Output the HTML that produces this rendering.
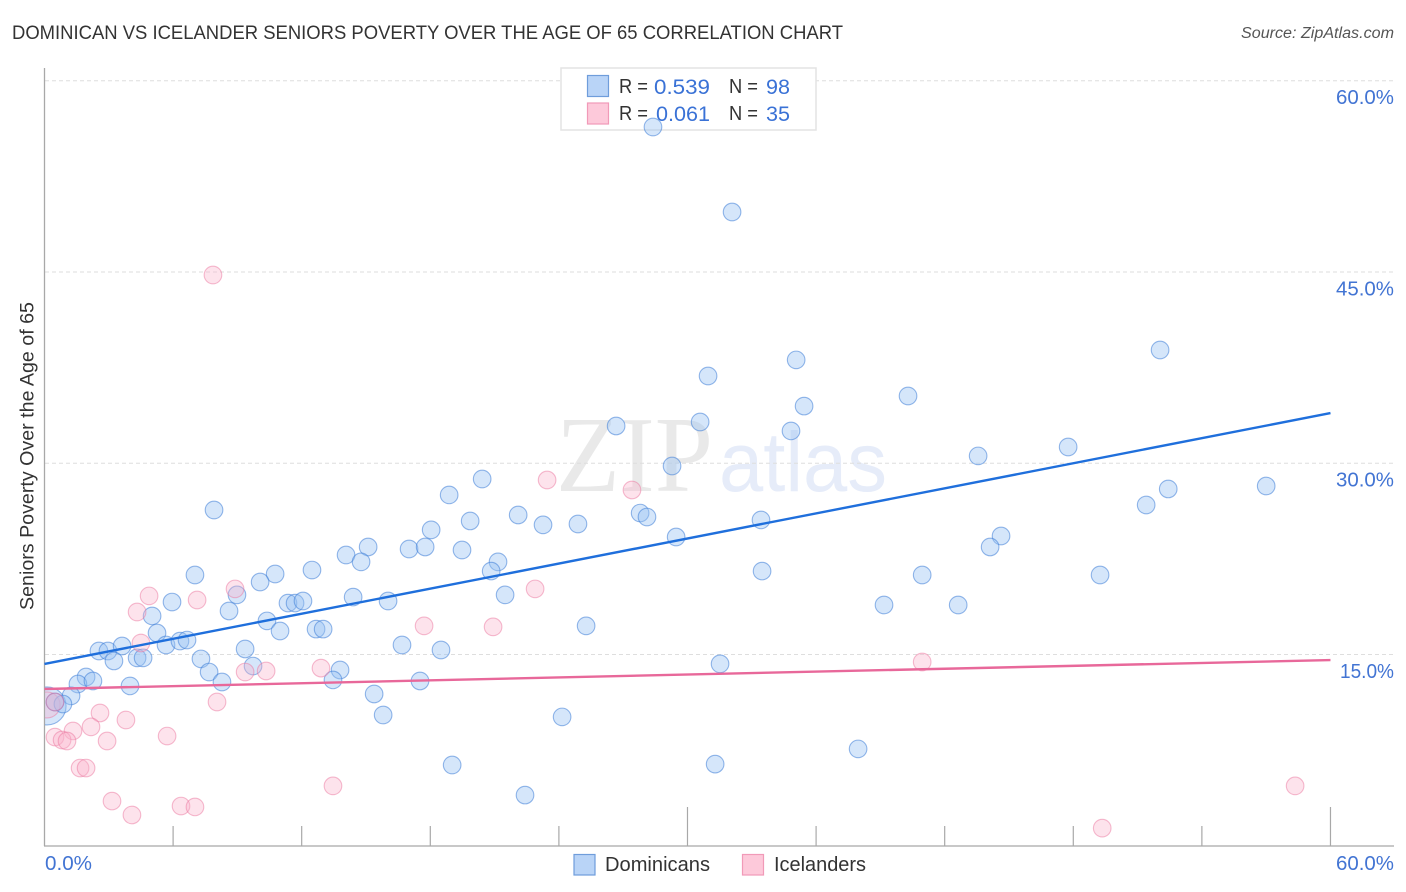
<!DOCTYPE html>
<html lang="en">
<head>
<meta charset="utf-8">
<title>Dominican vs Icelander Seniors Poverty Over the Age of 65 Correlation Chart</title>
<style>
html,body{margin:0;padding:0;background:#fff;width:1406px;height:892px;overflow:hidden}
svg{display:block}
text{font-family:"Liberation Sans",sans-serif}
.tick{fill:#4274d3;font-size:20px}
.leg{fill:#333;font-size:20px}
.val{fill:#3a72d6;font-size:21px}
</style>
</head>
<body>
<svg id="chart" xmlns="http://www.w3.org/2000/svg" width="1406" height="892" viewBox="0 0 1406 892">
  <defs><clipPath id="plot-clip"><rect x="45" y="60" width="1350" height="786"/></clipPath></defs>
  <text x="12" y="39" font-size="19.5" fill="#333" textLength="831" lengthAdjust="spacingAndGlyphs">DOMINICAN VS ICELANDER SENIORS POVERTY OVER THE AGE OF 65 CORRELATION CHART</text>
  <text x="1394" y="38" font-size="15.5" font-style="italic" fill="#555" text-anchor="end" textLength="153" lengthAdjust="spacingAndGlyphs">Source: ZipAtlas.com</text>
  <text transform="translate(33.5,610) rotate(-90)" font-size="19" fill="#333" textLength="308" lengthAdjust="spacingAndGlyphs">Seniors Poverty Over the Age of 65</text>

  <g id="watermark">
    <text x="556" y="491" font-size="108" fill="#e9e9e9" style="font-family:'Liberation Serif',serif" textLength="157" lengthAdjust="spacingAndGlyphs">ZIP</text>
    <text x="719" y="491" font-size="84" fill="#e6ecf9" textLength="168" lengthAdjust="spacingAndGlyphs">atlas</text>
  </g>

  <g id="grid"></g>
  <g id="axes"></g>

  <g id="stat-legend">
    <rect x="561" y="68" width="255" height="62" fill="#fff" stroke="#e3e3e3" stroke-width="1.5"/>
    <rect x="587.5" y="75.5" width="21" height="21" fill="#b9d4f7" stroke="#6f9ddb" stroke-width="1.2"/>
    <rect x="587.5" y="103" width="21" height="21" fill="#fdc9da" stroke="#f19ab8" stroke-width="1.2"/>
    <text class="leg" x="619" y="93" textLength="29" lengthAdjust="spacingAndGlyphs">R =</text>
    <text class="val" x="654" y="94" textLength="56" lengthAdjust="spacingAndGlyphs">0.539</text>
    <text class="leg" x="729" y="93" textLength="29" lengthAdjust="spacingAndGlyphs">N =</text>
    <text class="val" x="766" y="94" textLength="24" lengthAdjust="spacingAndGlyphs">98</text>
    <text class="leg" x="619" y="120" textLength="29" lengthAdjust="spacingAndGlyphs">R =</text>
    <text class="val" x="656" y="121" textLength="54" lengthAdjust="spacingAndGlyphs">0.061</text>
    <text class="leg" x="729" y="120" textLength="29" lengthAdjust="spacingAndGlyphs">N =</text>
    <text class="val" x="766" y="121" textLength="24" lengthAdjust="spacingAndGlyphs">35</text>
  </g>

  <g id="points" clip-path="url(#plot-clip)"></g>
  <g id="trends"></g>
  <g id="ticklabels"></g>

  <g id="bottom-legend">
    <rect x="574" y="854.5" width="21" height="20.5" fill="#b9d4f7" stroke="#6f9ddb" stroke-width="1.2"/>
    <text x="605" y="871" font-size="20" fill="#333" textLength="105" lengthAdjust="spacingAndGlyphs">Dominicans</text>
    <rect x="742.5" y="854.5" width="21" height="20.5" fill="#fdc9da" stroke="#f19ab8" stroke-width="1.2"/>
    <text x="774" y="871" font-size="20" fill="#333" textLength="92" lengthAdjust="spacingAndGlyphs">Icelanders</text>
  </g>
</svg>
<script>
var yTickValues = [15, 30, 45, 60];
var yTickLabels = ["15.0%", "30.0%", "45.0%", "60.0%"];
var xTickValues = [6, 12, 18, 24, 30, 36, 42, 48, 54, 60];
var xEndValues = [0, 60];
var xEndLabels = ["0.0%", "60.0%"];

var dominicanX = [28.39,32.08,35.07,30.96,52.05,40.29,35.44,30.59,26.67,34.83,29.28,47.76,43.56,20.42,18.88,7.91,51.40,52.43,57.00,27.79,28.11,33.43,19.86,22.10,23.26,24.89,18.04,29.47,44.63,44.12,17.01,17.76,15.10,19.48,14.07,14.77,21.16,20.84,12.48,10.76,10.06,7.02,33.48,40.95,49.25,21.49,14.40,16.03,5.95,8.98,8.61,11.36,11.69,12.06,39.17,42.63,5.02,10.38,10.99,12.67,13.00,25.27,5.25,5.67,6.32,6.65,16.68,18.50,9.36,2.54,2.96,3.62,3.24,4.32,4.60,7.30,7.68,9.73,13.79,13.46,8.28,17.52,31.52,1.94,1.56,2.26,3.99,15.38,1.24,0.86,0.49,15.80,24.15,37.96,19.02,31.29,22.42];
var dominicanY = [56.37,49.70,38.10,36.84,38.88,35.27,34.48,33.23,32.92,32.53,29.78,31.27,30.57,28.76,27.51,26.33,26.72,27.98,28.21,26.09,25.78,25.55,25.47,25.94,25.16,25.23,24.77,24.21,24.29,23.43,23.27,23.43,23.43,23.19,22.80,22.26,22.26,21.54,21.62,21.31,20.68,21.23,21.54,21.23,21.23,19.67,19.50,19.19,19.11,19.67,18.41,19.03,19.03,19.19,18.88,18.88,18.02,17.63,16.84,16.99,16.99,17.24,16.68,15.74,16.05,16.13,15.74,15.35,15.43,15.27,15.27,15.66,14.49,14.73,14.73,14.65,13.62,14.09,13.78,13.00,12.84,12.92,14.26,13.23,12.68,12.92,12.53,11.90,11.75,11.11,11.27,10.25,10.10,7.59,6.33,6.40,3.97];
var dominicanClusterX = [0.12];
var dominicanClusterY = [10.96];

var icelanderX = [7.86,23.45,27.41,8.89,4.88,7.12,4.32,17.71,20.93,22.89,4.50,9.36,10.34,12.90,40.95,8.05,2.59,3.80,1.33,2.17,5.72,2.92,0.49,0.82,1.05,1.66,1.94,3.15,4.08,6.37,7.02,13.46,49.35,58.35,0.49];
var icelanderY = [44.76,28.68,27.90,20.14,19.59,19.27,18.33,17.24,17.16,20.14,15.90,13.62,13.70,13.93,14.41,11.27,10.41,9.86,9.00,9.32,8.60,8.21,8.52,8.29,8.21,6.09,6.09,3.50,2.41,3.11,3.04,4.69,1.38,4.69,11.27];
var icelanderClusterX = [0.12];
var icelanderClusterY = [11.04];

var trendXRange = [0, 60];
var dominicanTrendY = [14.26, 33.93];
var icelanderTrendY = [12.29, 14.56];

var SVGNS = 'http://www.w3.org/2000/svg';
function xScale(v) { return 44.5 + v * 21.433; }
function yScale(v) { return 845.7 - v * 12.75; }
function make(parent, tag, attrs) {
  var el = document.createElementNS(SVGNS, tag);
  for (var k in attrs) { el.setAttribute(k, attrs[k]); }
  parent.appendChild(el);
  return el;
}

var grid = document.getElementById('grid');
yTickValues.forEach(function (v) {
  var line = make(grid, 'line', {x1: 45, x2: 1394, y1: yScale(v), y2: yScale(v), stroke: '#dedede', 'stroke-width': 1, 'stroke-dasharray': '4 3'});
  
  
});

var axes = document.getElementById('axes');
var yAxis = make(axes, 'line', {x1: 44.5, x2: 44.5, y1: 68, y2: 846, stroke: '#a8a8a8', 'stroke-width': 1.3});


var xAxis = make(axes, 'line', {x1: 44, x2: 1394, y1: 846, y2: 846, stroke: '#a8a8a8', 'stroke-width': 1.3});


xTickValues.forEach(function (v, i) {
  var tall = (i + 1) % 5 === 0;
  var tick = make(axes, 'line', {x1: xScale(v), x2: xScale(v), y1: tall ? 807 : 826, y2: 846, stroke: '#a8a8a8', 'stroke-width': 1.2});
  
  
});

var labels = document.getElementById('ticklabels');
yTickValues.forEach(function (v, i) {
  var t = make(labels, 'text', {x: 1394, y: yScale(v) + 23.5, 'text-anchor': 'end', 'class': 'tick', textLength: i === 0 ? 54 : 58, lengthAdjust: 'spacingAndGlyphs'});
  
  
  t.textContent = yTickLabels[i];
});
xEndValues.forEach(function (v, i) {
  var t = make(labels, 'text', {x: i === 0 ? 45 : 1394, y: 870, 'text-anchor': i === 0 ? 'start' : 'end', 'class': 'tick', textLength: i === 0 ? 47 : 58, lengthAdjust: 'spacingAndGlyphs'});
  
  
  t.textContent = xEndLabels[i];
});

var points = document.getElementById('points');
function drawPoint(x, y, r, fill, stroke) {
  return make(points, 'circle', {cx: xScale(x), cy: yScale(y), r: r, fill: fill, stroke: stroke, 'stroke-width': 1.1});
}
var blueFill = 'rgba(150,192,243,0.40)', blueStroke = 'rgba(62,125,215,0.55)';
var pinkFill = 'rgba(250,178,203,0.36)', pinkStroke = 'rgba(236,120,160,0.50)';

dominicanClusterX.forEach(function (x, i) {
  var c = drawPoint(x, dominicanClusterY[i], 19, blueFill, blueStroke);
  
  
});
icelanderClusterX.forEach(function (x, i) {
  var c = drawPoint(x, icelanderClusterY[i], 13, pinkFill, pinkStroke);
  
  
});
dominicanX.forEach(function (x, i) {
  var c = drawPoint(x, dominicanY[i], 8.8, blueFill, blueStroke);
  
  
});
icelanderX.forEach(function (x, i) {
  var c = drawPoint(x, icelanderY[i], 8.8, pinkFill, pinkStroke);
  
  
});

var trends = document.getElementById('trends');
var blueTrend = make(trends, 'line', {x1: xScale(trendXRange[0]), x2: xScale(trendXRange[1]), y1: yScale(dominicanTrendY[0]), y2: yScale(dominicanTrendY[1]), stroke: '#1f6fdc', 'stroke-width': 2.4});


var pinkTrend = make(trends, 'line', {x1: xScale(trendXRange[0]), x2: xScale(trendXRange[1]), y1: yScale(icelanderTrendY[0]), y2: yScale(icelanderTrendY[1]), stroke: '#e8689a', 'stroke-width': 2.4});


</script>
</body>
</html>
